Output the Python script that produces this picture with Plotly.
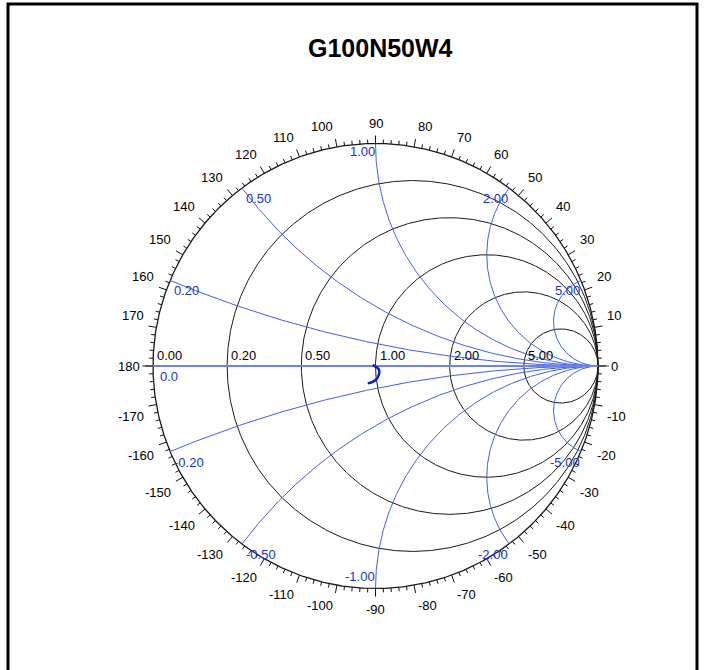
import numpy as np
import plotly.graph_objects as go

# ---------------- data ----------------
TITLE = "G100N50W4"
resistance_values = [0.0, 0.2, 0.5, 1.0, 2.0, 5.0]
resistance_labels = ["0.00", "0.20", "0.50", "1.00", "2.00", "5.00"]
reactance_values = [0.2, 0.5, 1.0, 2.0, 5.0, -0.2, -0.5, -1.0, -2.0, -5.0]
reactance_labels = ["0.20", "0.50", "1.00", "2.00", "5.00",
                    "-0.20", "-0.50", "-1.00", "-2.00", "-5.00"]
angle_labels = list(range(-170, 190, 10))   # degrees of reflection coefficient
minor_angle_step = 2
# measured reflection coefficient trace (real / imaginary)
gamma_re = [-0.012, 0.000, 0.013, 0.017, 0.013, 0.000, -0.017, -0.035]
gamma_im = [0.006, -0.003, -0.012, -0.025, -0.045, -0.063, -0.073, -0.078]

# ---------------- layout geometry ----------------
W, H = 707, 670
CX, CY, R = 375.5, 366.0, 222.5        # chart centre / radius in pixels
PX = 1.0 / R                            # one pixel in data units
FONT = "Liberation Sans, Arial, Helvetica, sans-serif"
BLACK_GRID = "#1a1a1a"
BLUE_GRID = "#4262e2"
BLUE_TEXT = "#1535c8"

fig = go.Figure()


def add_line(xs, ys, color, width):
    fig.add_trace(go.Scatter(x=xs, y=ys, mode="lines",
                             line=dict(color=color, width=width),
                             hoverinfo="skip", showlegend=False))


# constant-resistance circles
t = np.linspace(0, 2 * np.pi, 721)
for r in resistance_values:
    c = r / (1 + r)
    rad = 1 / (1 + r)
    add_line(c + rad * np.cos(t), rad * np.sin(t), BLACK_GRID, 1.3 if r == 0 else 1)

# real axis extension outside the chart (grey)
add_line([-1 - 11 * PX, -1], [0, 0], "#808080", 1.5)
add_line([1, 1 + 11 * PX], [0, 0], "#808080", 1.5)

# constant-reactance arcs
rs = np.concatenate([[0.0], np.logspace(-3, 4, 700)])
for xv in reactance_values:
    z = rs + 1j * xv
    g = (z - 1) / (z + 1)
    add_line(g.real, g.imag, BLUE_GRID, 1)

# real axis (x = 0)
add_line([-1, 1], [0, 0], "#6f82e6", 2)

# angle tick marks
tx, ty = [], []
for d in range(-180, 180, minor_angle_step):
    a = np.radians(d)
    ln = 8 if d % 10 == 0 else 4
    tx += [np.cos(a), (1 + ln * PX) * np.cos(a), None]
    ty += [np.sin(a), (1 + ln * PX) * np.sin(a), None]
add_line(tx, ty, "#111111", 1)

# data trace
fig.add_trace(go.Scatter(x=gamma_re, y=gamma_im, mode="lines",
                         line=dict(color="#0a1ed0", width=2.5, shape="spline"),
                         hoverinfo="skip", showlegend=False))

ann = []
# title
ann.append(dict(x=380 / W, y=1 - 48 / H, xref="paper", yref="paper",
                text="<b>" + TITLE + "</b>", showarrow=False,
                font=dict(family=FONT, size=25, color="black"),
                xanchor="center", yanchor="middle"))

# angle labels: anchored by the corner nearest the chart
for d in angle_labels:
    a = np.radians(d)
    c, s = np.cos(a), np.sin(a)
    dist = (R + 11) * PX
    xa = "center" if abs(c) < 1e-6 else ("left" if c > 0 else "right")
    ya = "middle" if abs(s) < 1e-6 else ("bottom" if s > 0 else "top")
    ann.append(dict(x=dist * c, y=dist * s, text=str(d), showarrow=False,
                    xanchor=xa, yanchor=ya,
                    font=dict(family=FONT, size=13, color="black")))

# resistance labels
for r, lab in zip(resistance_values, resistance_labels):
    ann.append(dict(x=(r - 1) / (r + 1), y=0, text=lab, showarrow=False,
                    xanchor="left", yanchor="bottom", xshift=2, yshift=1,
                    font=dict(family=FONT, size=13, color="black")))

# reactance labels
for xv, lab in zip(reactance_values, reactance_labels):
    g = (1j * xv - 1) / (1j * xv + 1)
    left = abs(xv) < 1
    below = not (xv == -1.0)
    ann.append(dict(x=g.real, y=g.imag, text=lab, showarrow=False,
                    xanchor="left" if left else "right",
                    yanchor="top" if below else "bottom",
                    xshift=2 if left else 1,
                    yshift=(2 if xv == 1.0 else -1) if below else 3,
                    font=dict(family=FONT, size=13, color=BLUE_TEXT)))
ann.append(dict(x=-1, y=0, text="0.0", showarrow=False, xanchor="left",
                yanchor="top", xshift=5, yshift=-1,
                font=dict(family=FONT, size=13, color=BLUE_TEXT)))

fig.update_layout(
    width=W, height=H,
    margin=dict(l=0, r=0, t=0, b=0),
    paper_bgcolor="white", plot_bgcolor="white",
    xaxis=dict(range=[-CX / R, (W - CX) / R], visible=False, fixedrange=True),
    yaxis=dict(range=[-(H - CY) / R, CY / R], visible=False, fixedrange=True),
    annotations=ann,
    shapes=[dict(type="rect", xref="paper", yref="paper",
                 x0=8 / W, x1=697 / W, y0=-0.05, y1=1 - 4 / H,
                 line=dict(color="black", width=3))],
    showlegend=False,
)

fig.write_html("out.html", config={"displayModeBar": False},
               post_script="document.body.style.margin='0px';")
